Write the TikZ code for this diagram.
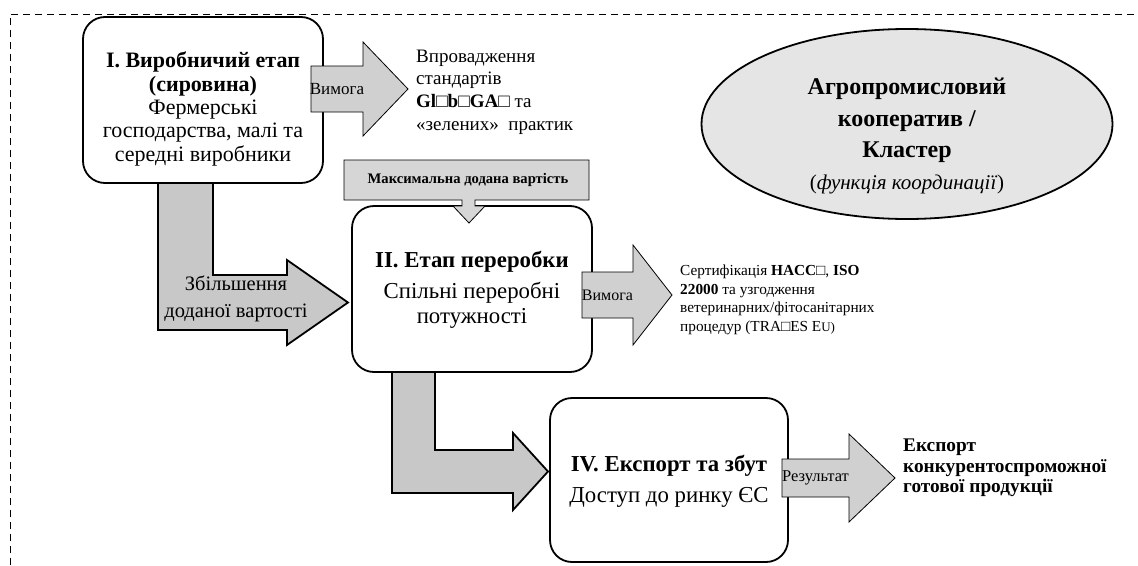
\documentclass[tikz,border=0pt]{standalone}
\usepackage{fontspec}
\setmainfont{Liberation Serif}
\usetikzlibrary{shapes.geometric,calc}
\definecolor{arrowgray}{RGB}{208,208,208}
\definecolor{lgray}{RGB}{200,200,200}
\definecolor{ellgray}{RGB}{229,229,229}
\definecolor{callgray}{RGB}{214,214,214}
\begin{document}
\begin{tikzpicture}[x=1pt,y=-1pt,
  stagebox/.style={draw, line width=1.8pt, rounded corners=22pt, fill=white,
    minimum width=240pt, minimum height=166pt, inner sep=0pt},
  boxtext/.style={align=center, inner sep=0pt, font=\fontsize{22}{23.4}\selectfont},
  larrow/.style={draw, line width=1.8pt, fill=lgray, line join=miter},
  blockarrow/.style={draw, line width=0.8pt, fill=arrowgray},
  arrowlabel/.style={inner sep=0pt, font=\fontsize{17}{20}\selectfont},
  sidetext/.style={anchor=west, align=left, inner sep=0pt}]
\useasboundingbox (0,0) rectangle (1138,565);
% dashed frame
\draw[line width=0.8pt, dash pattern=on 7pt off 5pt] (10,565) -- (10,14) -- (1138,14);

% L-shaped arrows (under the boxes)
\draw[larrow] (158,183) -- (158,330) -- (287,330) -- (287,345) -- (348,302.5)
  -- (287,260) -- (287,275) -- (213,275) -- (213,183) -- cycle;
\draw[larrow] (392,372) -- (392,493) -- (513,493) -- (513,510) -- (548,471.5)
  -- (513,433) -- (513,450) -- (435,450) -- (435,372) -- cycle;

% stage boxes
\node[stagebox] (b1) at (203,100) {};
\node[boxtext] (b1t) at ($(b1.center)+(0,9)$) {\textbf{I. Виробничий етап}\\\textbf{(сировина)}\\Фермерські\\господарства, малі та\\середні виробники};
\node[stagebox] (b2) at (472,289) {};
\node[boxtext, font=\fontsize{22.8}{25}\selectfont] (b2t) at ($(b2.center)+(0,1)$) {\textbf{II. Етап переробки}\\[6pt]Спільні переробні\\потужності};
\node[stagebox, minimum width=238pt, minimum height=164pt] (b4) at (669,480) {};
\node[boxtext, font=\fontsize{22.8}{25}\selectfont] (b4t) at ($(b4.center)+(0,1)$) {\textbf{IV. Експорт та збут}\\[6pt]Доступ до ринку ЄС};

\node[font=\fontsize{20.5}{27}\selectfont, align=center, inner sep=0pt] (lab1) at (236,299) {Збільшення\\доданої вартості};

% requirement arrows
\draw[blockarrow] (311,66) -- (363,66) -- (363,42) -- (408,89) -- (363,136) -- (363,112) -- (311,112) -- cycle;
\node[arrowlabel] (v1) at (337,89) {Вимога};
\draw[blockarrow] (582,272) -- (633,272) -- (633,245) -- (672,295) -- (633,345) -- (633,318) -- (582,318) -- cycle;
\node[arrowlabel, font=\fontsize{16}{19}\selectfont] (v2) at (607.5,295) {Вимога};
\draw[blockarrow] (782,459) -- (849,459) -- (849,434) -- (895,478) -- (849,522) -- (849,497) -- (782,497) -- cycle;
\node[arrowlabel, font=\fontsize{16.5}{19}\selectfont] (r1) at (815.5,478) {Результат};

% callout
\draw[line width=0.8pt, fill=callgray] (344,160) -- (589,160) -- (589,200) -- (475,200) -- (475,206)
  -- (485,206) -- (469,223) -- (453,206) -- (462,206) -- (462,200) -- (344,200) -- cycle;
\node[inner sep=0pt, font=\bfseries\fontsize{14.6}{16}\selectfont] (cl) at (468,180) {Максимальна додана вартість};

% side texts
\node[sidetext, font=\fontsize{19}{22.8}\selectfont] (t1) at (416,92)
  {Впровадження\\стандартів\\\textbf{Gl□b□GA□} та\\«зелених»\ \ практик};
\node[sidetext, font=\fontsize{15.3}{18.5}\selectfont] (t2) at (680,300)
  {Сертифікація \textbf{HACC□}, \textbf{ISO}\\\textbf{22000} та узгодження\\ветеринарних/фітосанітарних\\процедур (TRA□ES E{\fontsize{13}{15}\selectfont U)}};
\node[sidetext, font=\bfseries\fontsize{19.3}{20.5}\selectfont] (t3) at (903,468)
  {Експорт\\конкурентоспроможної\\готової продукції};

% cooperative ellipse
\node[ellipse, draw, line width=1.8pt, fill=ellgray, minimum width=411pt, minimum height=190pt, inner sep=0pt] (ell) at (907,124) {};
\node[align=center, inner sep=0pt, font=\fontsize{24}{31.5}\selectfont] (ellt) at ($(ell.center)+(0,12)$)
  {\textbf{Агропромисловий}\\\textbf{кооператив /}\\\textbf{Кластер}\\{\fontsize{21}{31.5}\selectfont(\textit{функція координації})}};
\end{tikzpicture}
\end{document}
